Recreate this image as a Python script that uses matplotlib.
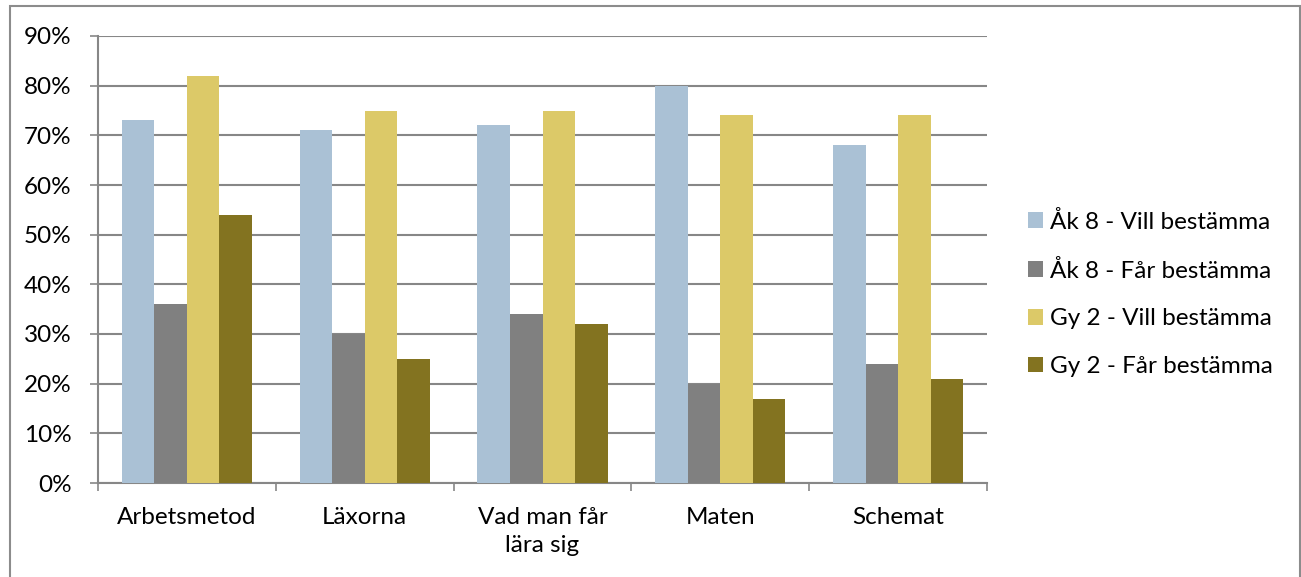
import matplotlib
matplotlib.use("Agg")
import matplotlib.pyplot as plt
import numpy as np
from matplotlib.patches import Rectangle

categories = ["Arbetsmetod", "Läxorna", "Vad man får\nlära sig", "Maten", "Schemat"]
series_names = ["Åk 8 - Vill bestämma", "Åk 8 - Får bestämma",
                "Gy 2 - Vill bestämma", "Gy 2 - Får bestämma"]
ak8_vill = [73, 71, 72, 80, 68]
ak8_far = [36, 30, 34, 20, 24]
gy2_vill = [82, 75, 75, 74, 74]
gy2_far = [54, 25, 32, 17, 21]
colors = ["#AAC1D5", "#808080", "#DCC968", "#837320"]
yticks = list(range(0, 91, 10))

plt.rcParams['font.family'] = ['Lato', 'DejaVu Sans']
FS = 17.5

W, H = 1301, 577
fig = plt.figure(figsize=(W / 100, H / 100), dpi=100)
ax = fig.add_axes([98 / W, 1 - 483 / H, (987 - 98) / W, (483 - 36) / H])

x = np.arange(len(categories))
bw = 0.183
data = [ak8_vill, ak8_far, gy2_vill, gy2_far]
for i, (vals, c, name) in enumerate(zip(data, colors, series_names)):
    ax.bar(x + (i - 1.5) * bw, vals, width=bw, color=c, label=name, zorder=3, linewidth=0)

ax.set_xlim(-0.5, len(categories) - 0.5)
ax.set_ylim(0, 90)
ax.set_yticks(yticks)
ax.set_yticklabels([f"{t}%" for t in yticks], fontsize=FS)
ax.yaxis.grid(True, color="#878787", linewidth=1.5, zorder=0)
ax.set_axisbelow(True)

ax.set_xticks(x)
ax.set_xticklabels(categories, fontsize=FS, linespacing=1.45)
ax.set_xticks(np.arange(-0.5, len(categories), 1.0), minor=True)
ax.tick_params(axis="x", which="major", length=0, pad=17)
ax.tick_params(axis="x", which="minor", length=6, width=1.2, color="#878787", direction="out")
ax.tick_params(axis="y", length=6, width=1.2, color="#878787", direction="out", pad=13)

for s in ["top", "right"]:
    ax.spines[s].set_visible(False)
for s in ["left", "bottom"]:
    ax.spines[s].set_color("#878787")
    ax.spines[s].set_linewidth(1.5)

leg = fig.legend(loc="center left", bbox_to_anchor=(1028 / W, 1 - 294 / H),
                 frameon=False, fontsize=FS, handlelength=0.62, handleheight=0.62,
                 handletextpad=0.3, labelspacing=1.1, borderaxespad=0, borderpad=0)

fig.patches.append(Rectangle((10 / W, -0.1), (1300 - 10) / W, 1.1 - 6 / H,
                             transform=fig.transFigure, fill=False,
                             edgecolor="#8C8C8C", linewidth=1.5))

fig.savefig("out.png", dpi=100)
